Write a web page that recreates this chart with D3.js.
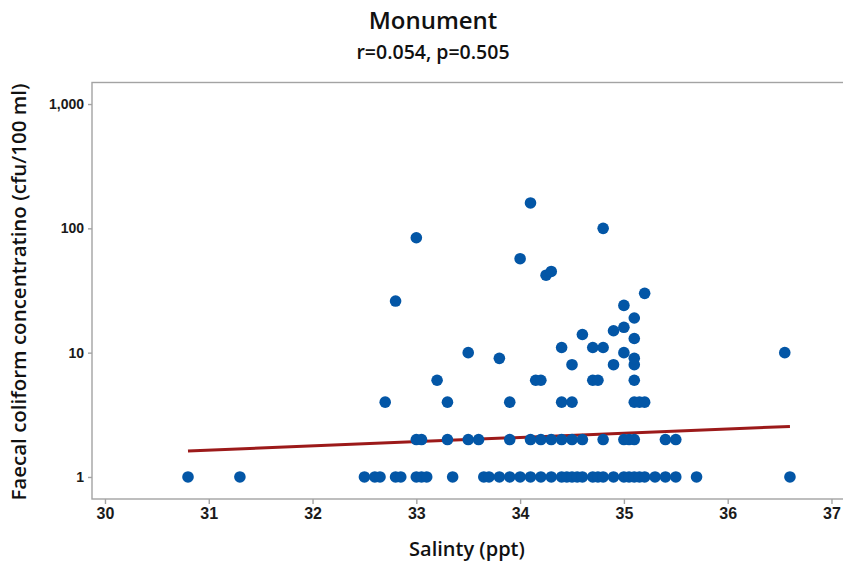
<!DOCTYPE html>
<html>
<head>
<meta charset="utf-8">
<script src="https://cdn.jsdelivr.net/npm/d3@7"></script>
<style>
  html, body { margin: 0; padding: 0; background: #fff; }
  svg { display: block; font-family: "Open Sans", "Noto Sans", sans-serif; }
</style>
</head>
<body>
<svg id="chart" width="843" height="565"></svg>
<script>
// Salinity (ppt) and faecal coliform counts (cfu/100 ml) for each sample
const salinity = [
  // samples at 1 cfu
  30.8, 31.3, 32.5, 32.6, 32.65, 32.8, 32.85, 33.0, 33.05, 33.1, 33.35, 33.65, 33.7,
  33.8, 33.9, 34.0, 34.1, 34.2, 34.3, 34.4, 34.45, 34.5, 34.55, 34.6, 34.7, 34.75,
  34.8, 34.9, 35.0, 35.05, 35.1, 35.15, 35.2, 35.3, 35.4, 35.5, 35.7, 36.6,
  // samples at 2 cfu
  33.0, 33.05, 33.3, 33.5, 33.6, 33.9, 34.1, 34.2, 34.3, 34.4, 34.5, 34.6, 34.8,
  35.0, 35.05, 35.1, 35.4, 35.5,
  // samples at 4 cfu
  32.7, 33.3, 33.9, 34.4, 34.5, 35.1, 35.15, 35.2,
  // samples at 6 cfu
  33.2, 34.15, 34.2, 34.7, 34.75, 35.1,
  // higher counts
  34.5, 34.9, 35.1, 33.8, 35.1, 33.5, 35.0, 36.55, 34.4, 34.7, 34.8,
  35.1, 34.6, 34.9, 35.0, 35.1, 35.0, 32.8, 35.2, 34.25, 34.3, 34.0, 33.0, 34.8, 34.1
];
const coliform = [
  1, 1, 1, 1, 1, 1, 1, 1, 1, 1, 1, 1, 1,
  1, 1, 1, 1, 1, 1, 1, 1, 1, 1, 1, 1, 1,
  1, 1, 1, 1, 1, 1, 1, 1, 1, 1, 1, 1,
  2, 2, 2, 2, 2, 2, 2, 2, 2, 2, 2, 2, 2,
  2, 2, 2, 2, 2,
  4, 4, 4, 4, 4, 4, 4, 4,
  6, 6, 6, 6, 6, 6,
  8, 8, 8, 9, 9, 10, 10, 10, 11, 11, 11,
  13, 14, 15, 16, 19, 24, 26, 30, 42, 45, 57, 84, 100, 160
];

// Fitted trend (log scale) evaluated at the ends of the salinity range
const fitSalinity = [30.8, 36.6];
const fitColiform = [1.62, 2.55];

const xTicks = [30, 31, 32, 33, 34, 35, 36, 37];
const yTicks = [1, 10, 100, 1000];

const titleText = "Monument";
const subtitleText = "r=0.054, p=0.505";
const xTitle = "Salinty (ppt)";
const yTitle = "Faecal coliform concentratino (cfu/100 ml)";

const svg = d3.select("#chart");
const plot = { left: 92, top: 82.5, right: 846, bottom: 499 };

const x = d3.scaleLinear().domain([29.875, 37.14]).range([plot.left, plot.right]);
const y = d3.scaleLog().domain([0.665, 1490]).range([plot.bottom, plot.top]);

const axisGray = "#a3a3a3";

// Plot frame
svg.append("rect")
  .attr("x", plot.left).attr("y", plot.top)
  .attr("width", plot.right - plot.left).attr("height", plot.bottom - plot.top)
  .attr("fill", "none").attr("stroke", axisGray).attr("stroke-width", 1.4);

// Axes
const xAxis = svg.append("g")
  .attr("transform", `translate(0,${plot.bottom})`)
  .call(d3.axisBottom(x).tickValues(xTicks).tickSize(5).tickPadding(4).tickFormat(d3.format("d")));
const yAxis = svg.append("g")
  .attr("transform", `translate(${plot.left},0)`)
  .call(d3.axisLeft(y).tickValues(yTicks).tickSize(4).tickPadding(4).tickFormat(d3.format(",")));

[xAxis, yAxis].forEach(g => {
  g.select(".domain").remove();
  g.selectAll(".tick line").attr("stroke", axisGray).attr("stroke-width", 1.4);
  g.selectAll(".tick text")
    .attr("fill", "#1a1a1a")
    .style("font-weight", 600);
});
xAxis.selectAll(".tick text").style("font-size", "16px");
yAxis.selectAll(".tick text").style("font-size", "14px");

// Fitted line
const line = d3.line().x(d => x(d[0])).y(d => y(d[1]));
svg.append("path")
  .datum(d3.zip(fitSalinity, fitColiform))
  .attr("d", line)
  .attr("fill", "none")
  .attr("stroke", "#9c1a1a")
  .attr("stroke-width", 3);

// Sample points
svg.append("g")
  .selectAll("circle")
  .data(d3.zip(salinity, coliform))
  .join("circle")
  .attr("cx", d => x(d[0]))
  .attr("cy", d => y(d[1]))
  .attr("r", 5.8)
  .attr("fill", "#0356a6");

// Titles
svg.append("text")
  .attr("x", 433).attr("y", 29)
  .attr("text-anchor", "middle")
  .style("font-size", "24px").style("font-weight", 600).attr("fill", "#111")
  .text(titleText);
svg.append("text")
  .attr("x", 433).attr("y", 59)
  .attr("text-anchor", "middle")
  .style("font-size", "19.5px").style("font-weight", 600).attr("fill", "#111")
  .text(subtitleText);

svg.append("text")
  .attr("x", 467).attr("y", 556)
  .attr("text-anchor", "middle")
  .style("font-size", "20px").style("font-weight", 600).attr("fill", "#111")
  .text(xTitle);

svg.append("text")
  .attr("transform", "translate(26,292) rotate(-90)")
  .attr("text-anchor", "middle")
  .style("font-size", "20.5px").style("font-weight", 600).attr("fill", "#111")
  .text(yTitle);
</script>
</body>
</html>
